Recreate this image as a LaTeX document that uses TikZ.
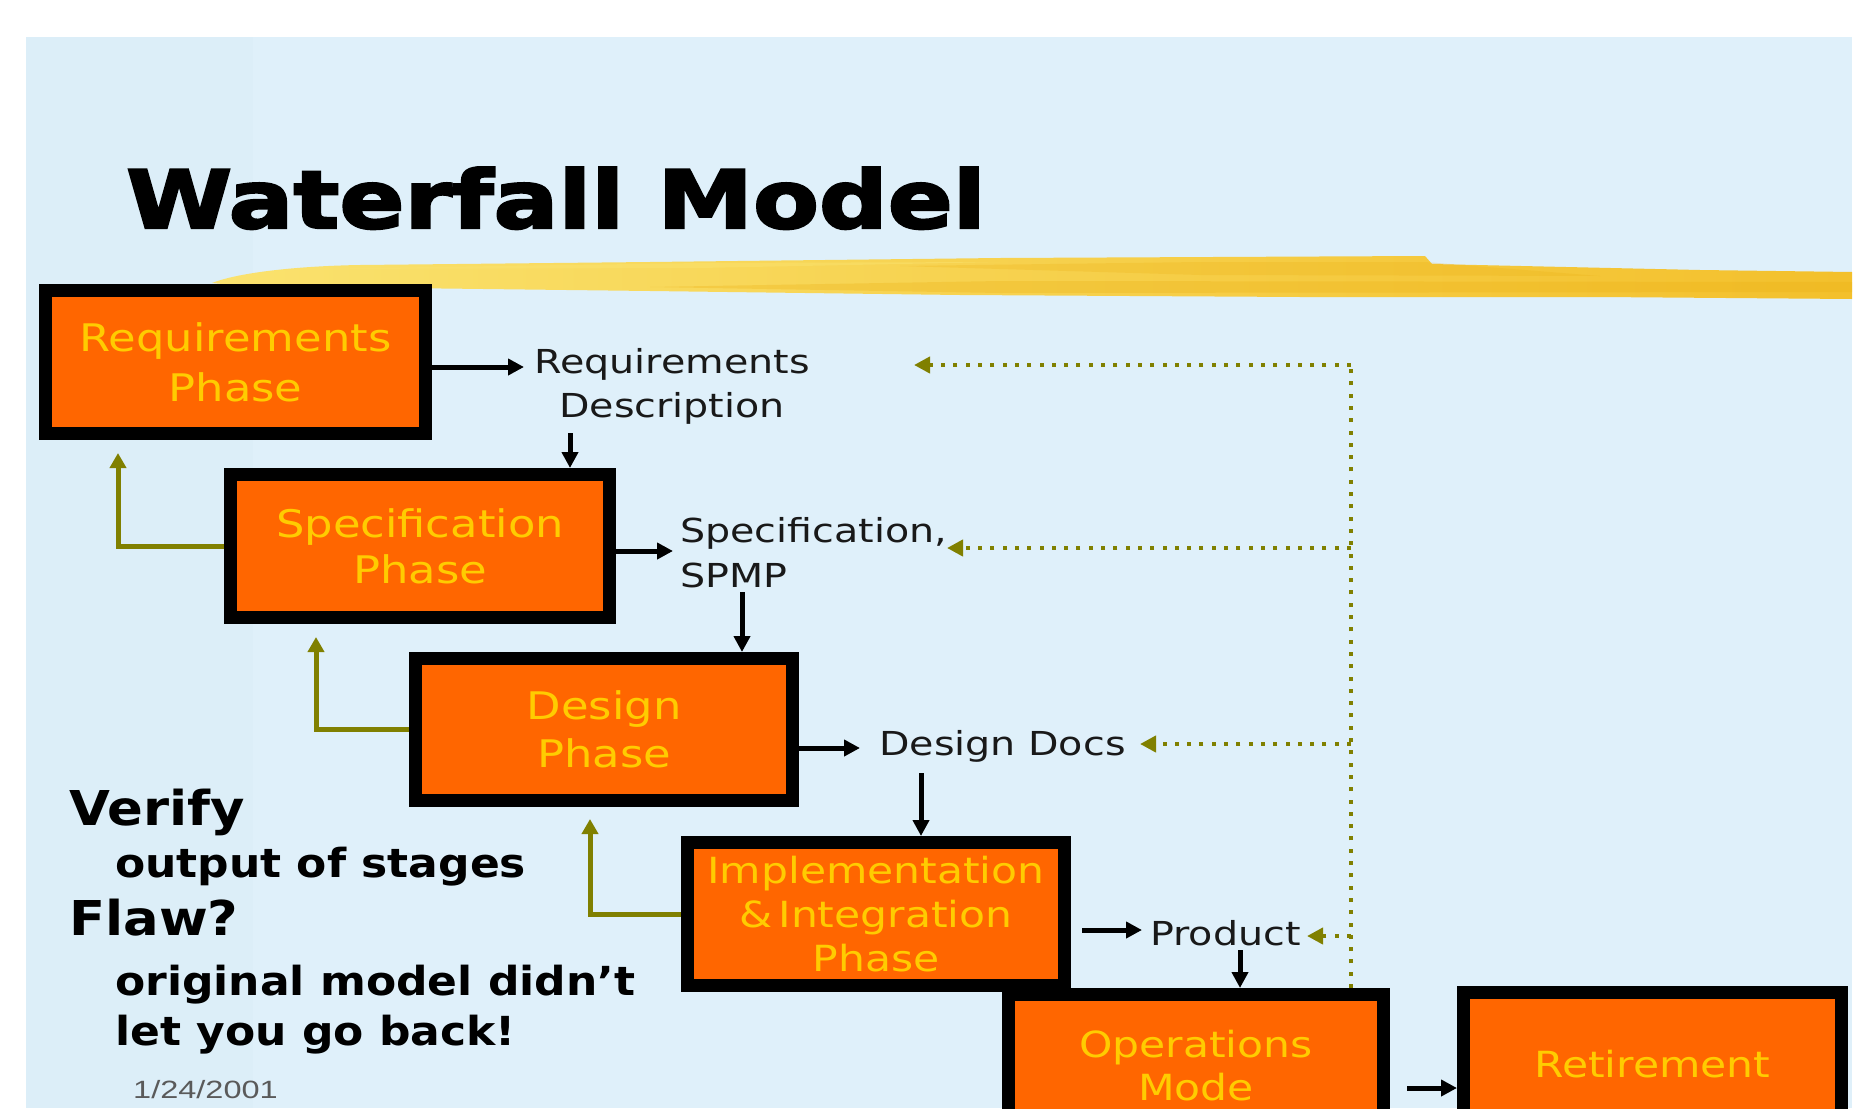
\documentclass[tikz,border=0pt]{standalone}
\usepackage{fontspec}
\usetikzlibrary{arrows.meta}
\newfontfamily\titlefont[FakeStretch=1.2,FakeBold=3]{DejaVu Sans}
\newfontfamily\boxfont[FakeStretch=1.18]{DejaVu Sans}
\newfontfamily\labfont[FakeStretch=1.2]{DejaVu Sans}
\newfontfamily\notefont[FakeStretch=1.1]{DejaVu Sans}
\newfontfamily\datefont[FakeStretch=1.3]{Liberation Sans}
\definecolor{bgblue}{RGB}{223,240,250}
\definecolor{bgband}{RGB}{220,238,248}
\definecolor{orng}{RGB}{255,102,0}
\definecolor{ylw}{RGB}{255,204,0}
\definecolor{olv}{RGB}{128,128,0}
\definecolor{strL}{RGB}{250,226,110}
\definecolor{strR}{RGB}{243,192,44}
\definecolor{strD}{RGB}{236,176,20}
\definecolor{labcol}{RGB}{25,25,25}
\definecolor{datecol}{RGB}{90,90,90}
\begin{document}
\begin{tikzpicture}[x=1pt,y=-1pt,
  phase/.style={draw=black, line width=13pt, fill=orng, text=ylw, align=center, inner sep=0pt},
  lab/.style={font=\labfont\fontsize{33}{44}\selectfont, text=labcol, inner sep=0pt},
  noteA/.style={anchor=base west, inner sep=0pt, font=\notefont\bfseries\fontsize{48}{56}\selectfont},
  noteB/.style={anchor=base west, inner sep=0pt, font=\notefont\bfseries\fontsize{40}{48}\selectfont},
  blk/.style={draw=black, line width=5pt, -{Triangle[length=16pt,width=16pt]}},
  olvarrow/.style={draw=olv, line width=5pt, -{Triangle[length=15pt,width=16pt]}},
  fbdots/.style={draw=olv, line width=4pt, dash pattern=on 4pt off 8.3pt},
  fbtip/.style={-{Triangle[length=16pt,width=16pt]}}
]
\useasboundingbox (0,0) rectangle (1868,1108);
\clip (0,0) rectangle (1868,1108);
\fill[white] (0,0) rectangle (1868,1108);
\fill[bgblue] (26,37) rectangle (1852,1108);
\fill[bgband] (26,37) rectangle (253,1108);

% brush stroke
\shade[left color=strL, right color=strR] (212,283) .. controls (240,272) and (300,266) .. (360,265) -- (650,262) -- (1000,258) -- (1425,256) -- (1432,264) -- (1700,270) -- (1852,272) -- (1852,299) -- (1600,297) -- (1300,297) -- (960,295) -- (650,291) -- (400,288) .. controls (300,287) and (240,286) .. (212,283) -- cycle;
\fill[strD, opacity=0.3] (650,287) -- (1000,281) -- (1852,282) -- (1852,292) -- (1000,293) -- cycle;
\fill[strD, opacity=0.25] (900,266) -- (1200,262) -- (1425,262) -- (1600,276) -- (1200,275) -- cycle;
\fill[strL, opacity=0.5] (300,269) -- (700,263) -- (1000,262) -- (700,268) -- cycle;

% title
\node[anchor=base west, inner sep=0pt, font=\titlefont\bfseries\fontsize{80}{96}\selectfont] (title) at (126,228) {Waterfall Model};

% phase boxes
\node[phase, minimum width=380pt, minimum height=143pt, font=\boxfont\fontsize{38}{50}\selectfont] (req) at (235.5,362) {Requirements\\Phase};
\node[phase, minimum width=379pt, minimum height=143pt, font=\boxfont\fontsize{38}{46}\selectfont] (spec) at (420,546) {Specification\\Phase};
\node[phase, minimum width=377pt, minimum height=142pt, font=\boxfont\fontsize{38}{48}\selectfont] (design) at (604,729.5) {Design\\Phase};
\node[phase, minimum width=377pt, minimum height=143pt, font=\boxfont\fontsize{36}{44}\selectfont] (impl) at (876,914) {Implementation\\\&\,Integration\\Phase};
\node[phase, minimum width=375pt, minimum height=143pt, font=\boxfont\fontsize{36}{43}\selectfont] (ops) at (1196,1066) {Operations\\Mode};
\node[phase, minimum width=378pt, minimum height=143pt, font=\boxfont\fontsize{36}{44}\selectfont] (ret) at (1652.5,1064) {Retirement};

% output labels
\node[lab, align=center] (reqd) at (672,386) {Requirements\\Description};
\node[lab, align=left, anchor=west, font=\labfont\fontsize{33}{45}\selectfont] (spmp) at (680,553) {Specification,\\SPMP};
\node[lab, anchor=base west] (ddocs) at (879,755) {Design Docs};
\node[lab, anchor=base west] (prod) at (1150,945) {Product};

% forward arrows
\coordinate (a1) at (524,367);
\draw[blk] (req.east |- a1) -- (a1);
\coordinate (a2) at (570,433);
\draw[blk] (a2) -- (a2 |- spec.north);
\coordinate (a3) at (673,551);
\draw[blk] (spec.east |- a3) -- (a3);
\coordinate (a4) at (742,592);
\draw[blk] (a4) -- (a4 |- design.north);
\coordinate (a5) at (860,748);
\draw[blk] (design.east |- a5) -- (a5);
\coordinate (a6) at (921,773);
\draw[blk] (a6) -- (a6 |- impl.north);
\coordinate (a7s) at (1082,930);
\coordinate (a7) at (1142,930);
\draw[blk] (a7s) -- (a7);
\coordinate (a8) at (1240,950);
\draw[blk] (a8) -- (a8 |- ops.north);
\coordinate (a9) at (1407,1088);
\draw[blk] (a9) -- (a9 -| ret.west);

% olive feedback arrows
\coordinate (f1) at (118,453);
\draw[olvarrow] (spec.west) -| (f1);
\coordinate (f2) at (316,637);
\draw[olvarrow] (design.west) -| (f2);
\coordinate (f3) at (590,819);
\draw[olvarrow] (impl.west) -| (f3);

% dotted feedback
\coordinate (v1) at (1351,365);
\coordinate (v2) at (1351,548);
\coordinate (v3) at (1351,744);
\coordinate (v4) at (1351,936);
\draw[fbdots] (v1 |- ops.north) -- (v1);
\coordinate (t1) at (914,365);
\coordinate (t2) at (947,548);
\coordinate (t3) at (1140,744);
\coordinate (t4) at (1307,936);
\draw[fbdots, fbtip] (v1) -- (t1);
\draw[fbdots, fbtip] (v2) -- (t2);
\draw[fbdots, fbtip] (v3) -- (t3);
\draw[fbdots, fbtip] (v4) -- (t4);

% notes
\node[noteA] (verify) at (69,825) {Verify};
\node[noteB] (outp) at (115,877) {output of stages};
\node[noteA] (flaw) at (69,935) {Flaw?};
\node[noteB] (orig) at (115,995) {original model didn’t};
\node[noteB] (goback) at (115,1045) {let you go back!};
\node[anchor=base west, inner sep=0pt, text=datecol, font=\datefont\fontsize{25}{30}\selectfont] (date) at (133,1098) {1/24/2001};
\end{tikzpicture}
\end{document}
